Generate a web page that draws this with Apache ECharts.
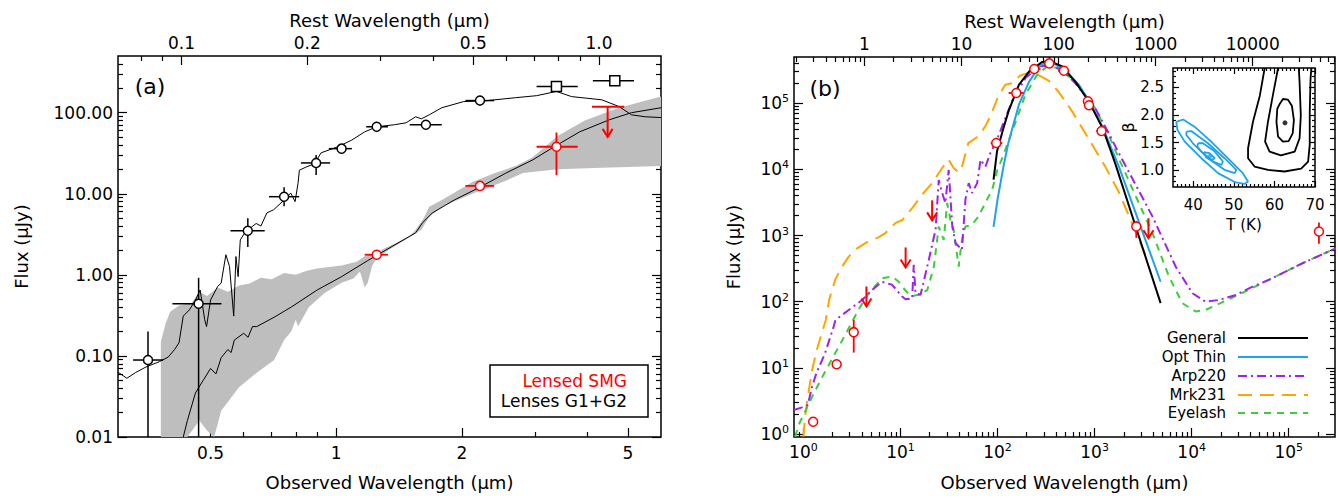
<!DOCTYPE html>
<html><head><meta charset="utf-8">
<script src="https://cdn.jsdelivr.net/npm/echarts@6/dist/echarts.min.js"></script>
<style>html,body{margin:0;padding:0;background:#fff}#c{width:1338px;height:498px}</style>
</head><body><div id="c"></div>
<script>
// ================= DATA =================
const restFactor = 4.26; // 1+z, observed / rest

// ---- panel (a) axes ----
const aXMajor = [0.5, 1, 2, 5];
const aXLabels = ['0.5', '1', '2', '5'];
const aXMinor = [0.4, 0.6, 0.7, 0.8, 0.9, 3, 4];
const aTopMajor = [0.1, 0.2, 0.5, 1.0];
const aTopLabels = ['0.1', '0.2', '0.5', '1.0'];
const aTopMinor = [0.08, 0.09, 0.3, 0.4, 0.6, 0.7, 0.8, 0.9];
const aYMajor = [0.01, 0.1, 1, 10, 100];
const aYLabels = ['0.01', '0.10', '1.00', '10.00', '100.00'];
const aYMinor = [0.02,0.03,0.04,0.05,0.06,0.07,0.08,0.09,0.2,0.3,0.4,0.5,0.6,0.7,0.8,0.9,2,3,4,5,6,7,8,9,20,30,40,50,60,70,80,90,200,300,400];

// ---- panel (a) photometry: [lambda, flux, xlo, xhi, ylo, yhi] ----
const lensCircles = [
  [0.354,0.089,0.326,0.385,0.01,0.2],[0.468,0.44,0.405,0.531,0.01,0.92],[0.614,3.5,0.558,0.674,2.2,5.0],
  [0.75,9.2,0.69,0.815,7.0,12],[0.895,24,0.823,0.967,17,30],[1.03,36,0.96,1.09,31,41],
  [1.25,67,1.18,1.33,60,75],[1.64,71,1.5,1.79,63,80],[2.21,141,2.04,2.39,130,150]
];
const lensSquares = [[3.37,210,3.02,3.79,190,235],[4.65,248,4.12,5.17,215,290]];
const smgPoints = [[1.25,1.77,1.17,1.33,1.55,2.0],[2.21,12.5,2.04,2.39,11.5,13.5],[3.37,38,3.02,3.79,17,57]];
const smgLimits = [[4.47,118,4.1,4.9]];

// ---- panel (a) model curves ----
const lensModel = [[0.30,0.063],[0.315,0.053],[0.33,0.062],[0.35,0.073],[0.377,0.085],[0.396,0.097],[0.41,0.12],[0.42,0.145],[0.43,0.31],[0.445,0.37],[0.46,0.49],[0.472,0.65],[0.484,0.28],[0.489,0.23],[0.50,0.49],[0.52,0.72],[0.53,0.79],[0.544,1.77],[0.555,1.27],[0.568,0.31],[0.575,1.68],[0.582,0.95],[0.589,2.7],[0.606,3.4],[0.643,4.3],[0.66,4.0],[0.682,5.8],[0.708,6.35],[0.751,8.4],[0.778,10.2],[0.797,8.0],[0.81,13.5],[0.816,19.5],[0.846,21.3],[0.887,23.5],[0.92,32],[1.01,38],[1.09,46],[1.17,58],[1.25,67],[1.38,71],[1.47,75],[1.55,89],[1.6,84],[1.67,94],[1.79,115],[2.02,137],[2.27,140],[2.69,153],[3.02,162],[3.37,183],[3.66,158],[4.33,144],[4.76,119],[5.1,94],[5.5,89],[6.0,87]];
const smgModel = [[0.43,0.01],[0.44,0.016],[0.46,0.035],[0.48,0.05],[0.50,0.07],[0.515,0.06],[0.53,0.095],[0.55,0.12],[0.56,0.11],[0.57,0.157],[0.6,0.19],[0.615,0.17],[0.63,0.23],[0.645,0.23],[0.71,0.30],[0.78,0.40],[0.9,0.65],[1.03,0.95],[1.19,1.5],[1.31,2.0],[1.55,3.3],[1.61,4.4],[1.70,5.8],[1.92,8.4],[2.22,12.2],[2.55,18],[2.95,26],[3.33,38],[3.83,58],[4.52,82],[5.1,100],[6.0,115]];
const bandUpper = [[0.38,0.01],[0.38,0.15],[0.39,0.25],[0.40,0.35],[0.42,0.42],[0.45,0.45],[0.47,0.62],[0.49,0.55],[0.52,0.7],[0.55,0.62],[0.585,0.74],[0.62,0.78],[0.66,0.92],[0.7,0.88],[0.75,1.05],[0.8,1.0],[0.85,1.12],[0.9,1.2],[1.03,1.3],[1.12,1.45],[1.17,1.7],[1.25,1.9],[1.35,2.3],[1.5,3.0],[1.55,3.6],[1.62,5.0],[1.67,6.9],[1.8,8.5],[2.12,14],[2.4,18],[2.69,22],[2.95,28],[3.2,40],[3.4,52],[3.94,80],[4.76,115],[6.0,158]];
const bandLower = [[0.38,0.01],[0.44,0.01],[0.47,0.016],[0.49,0.012],[0.51,0.01],[0.53,0.021],[0.585,0.041],[0.645,0.062],[0.71,0.089],[0.75,0.157],[0.78,0.2],[0.80,0.28],[0.81,0.23],[0.86,0.4],[0.94,0.6],[1.03,0.8],[1.1,0.9],[1.14,1.1],[1.17,0.7],[1.19,0.8],[1.22,1.3],[1.25,1.6],[1.35,2.1],[1.5,2.9],[1.6,3.6],[1.67,5.2],[1.8,7.0],[2.12,10],[2.55,14.5],[2.8,18],[3.4,20],[4.33,21],[6.0,22]];

// ---- panel (b) axes ----
const bXMajor = [1, 10, 100, 1000, 10000, 100000];
const bXExp = ['0', '1', '2', '3', '4', '5'];
const bXMinor = [0.9,2,3,4,5,6,7,8,9,20,30,40,50,60,70,80,90,200,300,400,500,600,700,800,900,2000,3000,4000,5000,6000,7000,8000,9000,20000,30000,40000,50000,60000,70000,80000,90000,200000];
const bTopMajor = [1, 10, 100, 1000, 10000];
const bTopLabels = ['1', '10', '100', '1000', '10000'];
const bTopMinor = [0.2,0.3,0.4,0.5,0.6,0.7,0.8,0.9,2,3,4,5,6,7,8,9,20,30,40,50,60,70,80,90,200,300,400,500,600,700,800,900,2000,3000,4000,5000,6000,7000,8000,9000,20000,30000,40000,50000,60000,70000];
const bYMajor = [1, 10, 100, 1000, 10000, 100000];
const bYExp = ['0', '1', '2', '3', '4', '5'];
const bYMinor = [2,3,4,5,6,7,8,9,20,30,40,50,60,70,80,90,200,300,400,500,600,700,800,900,2000,3000,4000,5000,6000,7000,8000,9000,20000,30000,40000,50000,60000,70000,80000,90000,200000,300000,400000];

// ---- panel (b) photometry ----
const bPoints = [[1.26,1.53,1.26,1.26,1.3,1.8],[2.2,11.3,2.2,2.2,10,12.8],[3.3,34.6,3.3,3.3,17,53],[97,2.5e4,85,112,2.1e4,3.0e4],[156,1.43e5,130,186,1.3e5,1.57e5],[239,3.3e5,211,277,3.0e5,3.6e5],[341,4.0e5,300,395,3.7e5,4.3e5],[483,3.1e5,420,550,2.85e5,3.35e5],[853,1.07e5,853,853,9.9e4,1.15e5],[876,9.3e4,876,876,8.6e4,1.0e5],[1180,3.8e4,1040,1350,3.4e4,4.2e4],[2690,1370,2690,2690,920,1650],[2.05e5,1150,2.05e5,2.05e5,750,1580]];
const bLimits = [[4.46,170],[11.3,660],[21.2,3400],[3590,1830]];

// ---- panel (b) SED models ----
const general = [[91,7000],[99,1.9e4],[115,4.2e4],[130,7.6e4],[166,1.9e5],[211,3.0e5],[287,4.2e5],[352,4.3e5],[464,3.6e5],[635,2.1e5],[870,1.07e5],[1210,4.2e4],[1520,1.66e4],[1650,1.17e4],[2650,1370],[4790,95]];
const optThin = [[91,1350],[100,3500],[116,1.17e4],[130,2.6e4],[166,9.5e4],[211,2.1e5],[277,3.8e5],[352,4.3e5],[500,3.1e5],[690,1.9e5],[940,9.0e4],[1200,4.5e4],[1780,1.1e4],[4790,200]];
const arp220 = [[0.80,2.3],[0.95,2.5],[1.11,2.75],[1.23,5.2],[1.36,8.3],[1.67,16.6],[2.05,42],[2.14,53],[2.93,75],[4.03,106],[5.1,150],[6.47,200],[8.2,180],[10.4,120],[11.3,109],[13.2,112],[13.7,360],[14.3,134],[16.1,127],[19.6,430],[23,1230],[24.8,6900],[26.9,4400],[29,3100],[31.4,9800],[34.2,1370],[36.9,770],[43,610],[46.7,3500],[50.5,6200],[54.6,4400],[61.7,6200],[66.9,1.4e4],[75,1.1e4],[84.5,1.77e4],[95,2.5e4],[102,3.2e4],[141,1.07e5],[194,2.4e5],[266,3.6e5],[341,3.7e5],[464,3.2e5],[635,2.0e5],[1010,8.5e4],[1400,3.5e4],[1700,2.0e4],[3940,1950],[6840,340],[1.02e4,134],[1.39e4,100],[1.9e4,106],[2.8e4,125],[4.3e4,170],[6.3e4,215],[1.38e5,380],[3.05e5,640]];
const mrk231 = [[1.0,0.91],[1.04,1.83],[1.11,3.66],[1.23,9.3],[1.36,17.6],[1.51,29.7],[1.7,53],[1.85,110],[2.14,220],[2.5,340],[2.93,480],[3.57,640],[4.36,770],[5.98,945],[7.0,1090],[8.9,1550],[10.4,1700],[13.2,2600],[16.7,4160],[21.2,6200],[26.9,1.05e4],[31.4,1.4e4],[35.3,1.05e4],[39.8,9000],[43,1.1e4],[50,2.5e4],[64,3.2e4],[75,4.5e4],[85,6.5e4],[100,1.2e5],[120,1.9e5],[140,2.0e5],[170,2.6e5],[210,2.9e5],[260,2.7e5],[336,2.2e5],[425,1.5e5],[585,7.6e4],[805,3.5e4],[1010,2.0e4],[1290,1.1e4],[1780,4500],[2430,1550],[3360,500]];
const eyelash = [[0.82,0.91],[0.91,1.45],[1.06,2.3],[1.23,3.66],[1.51,6.6],[1.95,13.2],[2.64,29.7],[3.25,53],[3.87,85],[4.71,134],[6.47,226],[8.2,240],[9.6,200],[10.4,170],[12.7,120],[15.4,127],[18.9,150],[22.1,340],[24.8,1370],[27.9,860],[30.3,3100],[32.7,1730],[35.3,1230],[39.8,340],[43,860],[46.7,1370],[54.6,1450],[63.7,1950],[78,3500],[88,4900],[100,1.0e4],[108,1.3e4],[141,3.7e4],[194,1.35e5],[256,2.7e5],[325,3.6e5],[425,3.4e5],[635,2.1e5],[1010,8.5e4],[1400,3.3e4],[1800,1.4e4],[3940,1090],[5840,240],[8020,95],[1.1e4,71],[1.39e4,75],[2.8e4,120],[6.3e4,215],[1.38e5,380],[3.05e5,640]];

// ---- inset (T, beta) ----
const inXMajor = [40, 50, 60, 70];
const inXMinor = [36,37,38,39,41,42,43,44,45,46,47,48,49,51,52,53,54,55,56,57,58,59,61,62,63,64,65,66,67,68,69];
const inYMajor = [1.0, 1.5, 2.0, 2.5];
const inYLabels = ['1.0', '1.5', '2.0', '2.5'];
const inYMinor = [0.8,0.9,1.1,1.2,1.3,1.4,1.6,1.7,1.8,1.9,2.1,2.2,2.3,2.4,2.6,2.7,2.8];
const blueC1 = [[35.8,1.875],[37.5,1.92],[40.3,1.79],[44.4,1.52],[48.5,1.22],[52.2,0.95],[53.5,0.80],[52.6,0.755],[50.2,0.79],[46.1,0.95],[42.0,1.22],[37.9,1.52],[36.1,1.73],[35.8,1.875]];
const blueC2 = [[38.3,1.70],[39.5,1.71],[43.6,1.49],[47.7,1.22],[50.6,1.01],[50.2,0.95],[47.7,1.01],[43.6,1.22],[39.9,1.49],[38.3,1.64],[38.3,1.70]];
const blueC3 = [[41.2,1.49],[42.4,1.49],[45.3,1.34],[47.3,1.16],[46.9,1.10],[44.9,1.16],[42.0,1.34],[41.0,1.43],[41.2,1.49]];
const blueC4 = [[42.6,1.33],[44.0,1.31],[45.3,1.22],[44.6,1.19],[43.2,1.23],[42.6,1.33]];
const blackC1 = [[57.6,2.85],[56.4,2.35],[54.7,1.875],[53.5,1.40],[53.5,1.22],[55.1,1.07],[58.4,1.01],[62.5,0.98],[66.6,1.03],[68.3,1.16],[68.7,1.46],[68.7,2.05],[68.9,2.65],[69.1,2.85]];
const blackC2 = [[60.9,2.85],[59.6,2.35],[58.4,1.875],[57.7,1.52],[58.8,1.34],[61.6,1.27],[65.0,1.34],[66.2,1.58],[66.5,1.99],[66.2,2.59],[66.0,2.85]];
const blackC3 = [[61.3,2.20],[62.1,2.29],[63.3,2.28],[64.3,2.17],[64.8,1.91],[64.5,1.67],[63.5,1.53],[62.1,1.52],[60.9,1.61],[60.5,1.875],[60.7,2.11],[61.3,2.20]];
const bestFit = [[62.6,1.86]];
const bestThin = [[44.0,1.25]];

// ================= STYLE =================
const FF = 'DejaVu Sans';
const RED = '#ff0000', BLUE = '#1ea3ea', PURPLE = '#a020f0', ORANGE = '#ffa500', GREEN = '#3ccc3c', GRAY = '#bebebe';

function pick(v, ticks, labels) {
  for (let i = 0; i < ticks.length; i++) if (Math.abs(v - ticks[i]) <= 1e-4 * Math.abs(ticks[i])) return labels[i];
  return '';
}
function axis(o) {
  const a = {
    gridIndex: o.grid, position: o.pos, type: o.type || 'log', min: o.min, max: o.max,
    axisLine: {show: false}, splitLine: {show: false},
    axisTick: {show: true, inside: true, length: o.len, customValues: o.ticks, lineStyle: {color: '#000', width: 1.2}},
    axisLabel: o.fmt ? {show: true, customValues: o.ticks, formatter: o.fmt, color: '#000', fontFamily: FF,
      fontSize: o.fs || 17, margin: o.margin || 6, rich: o.rich} : {show: false},
    z: o.z || 0
  };
  if (a.type === 'log') a.logBase = 10;
  if (o.name) {
    a.name = o.name; a.nameLocation = 'middle'; a.nameGap = o.gap;
    if (o.rot) a.nameRotate = o.rot;
    a.nameTextStyle = {color: '#000', fontFamily: FF, fontSize: o.nfs || 18};
  }
  return a;
}
const supRich = {b: {fontSize: 17, fontFamily: FF, color: '#000'}, s: {fontSize: 11, fontFamily: FF, color: '#000', padding: [0, 0, 9, 0]}};

const aXmin = 0.3, aXmax = 6.0, aYmin = 0.01, aYmax = 500;
const bXmin = 0.8, bXmax = 3e5, bYmin = 0.9, bYmax = 5e5;

const xAxes = [
  axis({grid: 0, pos: 'bottom', min: aXmin, max: aXmax, ticks: aXMajor, len: 9, fmt: v => pick(v, aXMajor, aXLabels), margin: 7, name: 'Observed Wavelength (\u03bcm)', gap: 36}),
  axis({grid: 0, pos: 'bottom', min: aXmin, max: aXmax, ticks: aXMinor, len: 5}),
  axis({grid: 0, pos: 'top', min: aXmin / restFactor, max: aXmax / restFactor, ticks: aTopMajor, len: 9, fmt: v => pick(v, aTopMajor, aTopLabels), margin: 5, name: 'Rest Wavelength (\u03bcm)', gap: 27}),
  axis({grid: 0, pos: 'top', min: aXmin / restFactor, max: aXmax / restFactor, ticks: aTopMinor, len: 5}),
  axis({grid: 1, pos: 'bottom', min: bXmin, max: bXmax, ticks: bXMajor, len: 9, fmt: v => '{b|10}{s|' + pick(v, bXMajor, bXExp) + '}', rich: supRich, margin: 5, name: 'Observed Wavelength (\u03bcm)', gap: 36}),
  axis({grid: 1, pos: 'bottom', min: bXmin, max: bXmax, ticks: bXMinor, len: 5}),
  axis({grid: 1, pos: 'top', min: bXmin / restFactor, max: bXmax / restFactor, ticks: bTopMajor, len: 9, fmt: v => pick(v, bTopMajor, bTopLabels), margin: 5, name: 'Rest Wavelength (\u03bcm)', gap: 27}),
  axis({grid: 1, pos: 'top', min: bXmin / restFactor, max: bXmax / restFactor, ticks: bTopMinor, len: 5}),
  axis({grid: 2, pos: 'bottom', type: 'value', min: 35, max: 70, ticks: inXMajor, len: 6, fmt: v => String(v), fs: 15, margin: 10, name: 'T (K)', gap: 30, nfs: 15, z: 6}),
  axis({grid: 2, pos: 'bottom', type: 'value', min: 35, max: 70, ticks: inXMinor, len: 3, z: 6}),
  axis({grid: 2, pos: 'top', type: 'value', min: 35, max: 70, ticks: inXMajor, len: 6, z: 6}),
  axis({grid: 2, pos: 'top', type: 'value', min: 35, max: 70, ticks: inXMinor, len: 3, z: 6})
];
const yAxes = [
  axis({grid: 0, pos: 'left', min: aYmin, max: aYmax, ticks: aYMajor, len: 9, fmt: v => pick(v, aYMajor, aYLabels), margin: 5, name: 'Flux (\u03bcJy)', gap: 88, rot: 90}),
  axis({grid: 0, pos: 'left', min: aYmin, max: aYmax, ticks: aYMinor, len: 5}),
  axis({grid: 0, pos: 'right', min: aYmin, max: aYmax, ticks: aYMajor, len: 9}),
  axis({grid: 0, pos: 'right', min: aYmin, max: aYmax, ticks: aYMinor, len: 5}),
  axis({grid: 1, pos: 'left', min: bYmin, max: bYmax, ticks: bYMajor, len: 9, fmt: v => '{b|10}{s|' + pick(v, bYMajor, bYExp) + '}', rich: supRich, margin: 5, name: 'Flux (\u03bcJy)', gap: 52, rot: 90}),
  axis({grid: 1, pos: 'left', min: bYmin, max: bYmax, ticks: bYMinor, len: 5}),
  axis({grid: 1, pos: 'right', min: bYmin, max: bYmax, ticks: bYMajor, len: 9}),
  axis({grid: 1, pos: 'right', min: bYmin, max: bYmax, ticks: bYMinor, len: 5}),
  axis({grid: 2, pos: 'left', type: 'value', min: 0.7, max: 2.85, ticks: inYMajor, len: 6, fmt: v => pick(v, inYMajor, inYLabels), fs: 15, margin: 9, name: '\u03b2', gap: 34, nfs: 16, rot: 90, z: 6}),
  axis({grid: 2, pos: 'left', type: 'value', min: 0.7, max: 2.85, ticks: inYMinor, len: 3, z: 6}),
  axis({grid: 2, pos: 'right', type: 'value', min: 0.7, max: 2.85, ticks: inYMajor, len: 6, z: 6}),
  axis({grid: 2, pos: 'right', type: 'value', min: 0.7, max: 2.85, ticks: inYMinor, len: 3, z: 6})
];

// error bars via custom series (values: x, y, xlo, xhi, ylo, yhi)
function errSeries(data, xi, color, width, z) {
  return {
    type: 'custom', xAxisIndex: xi, yAxisIndex: xi, data: data, z: z, clip: true,
    encode: {x: 0, y: 1},
    renderItem: function (params, api) {
      const x = api.value(0), y = api.value(1);
      const a = api.coord([api.value(2), y]), b = api.coord([api.value(3), y]);
      const c = api.coord([x, api.value(4)]), d = api.coord([x, api.value(5)]);
      const st = {stroke: color, lineWidth: width, fill: 'none'};
      return {type: 'group', children: [
        {type: 'line', shape: {x1: a[0], y1: a[1], x2: b[0], y2: b[1]}, style: st},
        {type: 'line', shape: {x1: c[0], y1: c[1], x2: d[0], y2: d[1]}, style: st}
      ]};
    }
  };
}
// upper limits: bar (optional) + downward arrow of fixed pixel length
function limitSeries(data, xi, withBar, len, z) {
  return {
    type: 'custom', xAxisIndex: xi, yAxisIndex: xi, data: data, z: z, clip: false,
    encode: {x: 0, y: 1},
    renderItem: function (params, api) {
      const p = api.coord([api.value(0), api.value(1)]);
      const st = {stroke: RED, lineWidth: 2, fill: 'none'};
      const ch = [
        {type: 'line', shape: {x1: p[0], y1: p[1], x2: p[0], y2: p[1] + len}, style: st},
        {type: 'polyline', shape: {points: [[p[0] - 5, p[1] + len - 8], [p[0], p[1] + len], [p[0] + 5, p[1] + len - 8]]}, style: st}
      ];
      if (withBar) {
        const a = api.coord([api.value(2), api.value(1)]), b = api.coord([api.value(3), api.value(1)]);
        ch.push({type: 'line', shape: {x1: a[0], y1: a[1], x2: b[0], y2: b[1]}, style: st});
      }
      return {type: 'group', children: ch};
    }
  };
}
function line(data, xi, color, width, type, z) {
  return {type: 'line', xAxisIndex: xi, yAxisIndex: xi, data: data, symbol: 'none', showSymbol: false,
    lineStyle: {color: color, width: width, type: type || 'solid'}, z: z || 2, clip: true, silent: true};
}
function marks(data, xi, symbol, size, color, z) {
  return {type: 'scatter', xAxisIndex: xi, yAxisIndex: xi, data: data.map(d => [d[0], d[1]]), symbol: symbol,
    symbolSize: size, itemStyle: {color: '#fff', borderColor: color, borderWidth: 1.5, opacity: 1}, z: z || 4, silent: true};
}

const series = [
  // ---- panel (a) ----
  {type: 'custom', xAxisIndex: 0, yAxisIndex: 0, data: [[1, 1]], z: 1, clip: true, silent: true,
    renderItem: function (params, api) {
      const pts = bandUpper.map(p => api.coord(p)).concat(bandLower.slice().reverse().map(p => api.coord(p)));
      return {type: 'polygon', shape: {points: pts}, style: {fill: GRAY, stroke: 'none'}};
    }},
  line(lensModel, 0, '#000', 1, 'solid', 2),
  line(smgModel, 0, '#000', 1, 'solid', 2),
  errSeries(lensCircles, 0, '#000', 1.5, 3),
  errSeries(lensSquares, 0, '#000', 1.5, 3),
  errSeries(smgPoints, 0, RED, 1.8, 3),
  limitSeries(smgLimits, 0, true, 30, 3),
  marks(lensCircles, 0, 'circle', 9, '#000'),
  marks(lensSquares, 0, 'rect', 10, '#000'),
  marks(smgPoints, 0, 'circle', 9, RED),
  // ---- panel (b) ----
  line(mrk231, 4, ORANGE, 2, [14, 8], 2),
  line(eyelash, 4, GREEN, 2, [7, 6], 2),
  line(arp220, 4, PURPLE, 2, [9, 4, 2, 4], 2),
  line(optThin, 4, BLUE, 2, 'solid', 2),
  line(general, 4, '#000', 2, 'solid', 2),
  errSeries(bPoints, 4, RED, 1.8, 3),
  limitSeries(bLimits, 4, false, 20, 3),
  marks(bPoints, 4, 'circle', 9, RED),
  // ---- inset ----
  line(blueC1, 8, BLUE, 1.8, 'solid', 7),
  line(blueC2, 8, BLUE, 1.8, 'solid', 7),
  line(blueC3, 8, BLUE, 1.8, 'solid', 7),
  line(blueC4, 8, BLUE, 1.8, 'solid', 7),
  line(blackC1, 8, '#000', 1.8, 'solid', 7),
  line(blackC2, 8, '#000', 1.8, 'solid', 7),
  line(blackC3, 8, '#000', 1.8, 'solid', 7),
  {type: 'scatter', xAxisIndex: 8, yAxisIndex: 8, data: bestFit, symbolSize: 5, itemStyle: {color: '#000'}, z: 8, silent: true},
  {type: 'scatter', xAxisIndex: 8, yAxisIndex: 8, data: bestThin, symbolSize: 5, itemStyle: {color: BLUE}, z: 8, silent: true}
];

function txt(text, x, y, size, color, align) {
  return {type: 'text', x: x, y: y, z: 20, silent: true,
    style: {text: text, fill: color, font: size + 'px "' + FF + '"', align: align, verticalAlign: 'middle',
      textAlign: align, textVerticalAlign: 'middle'}};
}
function legLine(y, color, dash) {
  return {type: 'line', z: 20, silent: true, shape: {x1: 1238, y1: y, x2: 1308, y2: y},
    style: {stroke: color, lineWidth: 2, lineDash: dash}};
}
const graphics = [
  txt('(a)', 150, 86, 22, '#000', 'center'),
  txt('(b)', 825, 88, 22, '#000', 'center'),
  {type: 'rect', z: 19, silent: true, shape: {x: 490, y: 365, width: 158, height: 52}, style: {fill: '#fff', stroke: '#000', lineWidth: 1.5}},
  txt('Lensed SMG', 627, 381, 17, RED, 'right'),
  txt('Lenses G1+G2', 627, 401, 17, '#000', 'right'),
  txt('General', 1226, 338, 15, '#000', 'right'), legLine(338, '#000', null),
  txt('Opt Thin', 1226, 357, 15, '#000', 'right'), legLine(357, BLUE, null),
  txt('Arp220', 1226, 376, 15, '#000', 'right'), legLine(376, PURPLE, [9, 4, 2, 4]),
  txt('Mrk231', 1226, 395, 15, '#000', 'right'), legLine(395, ORANGE, [14, 8]),
  txt('Eyelash', 1226, 413, 15, '#000', 'right'), legLine(413, GREEN, [7, 6])
];

const chart = echarts.init(document.getElementById('c'), null, {renderer: 'svg', width: 1338, height: 498});
chart.setOption({
  animation: false,
  backgroundColor: '#fff',
  grid: [
    {left: 118, top: 56, width: 543, height: 381, show: true, borderColor: '#000', borderWidth: 1.5, backgroundColor: 'transparent', z: 0},
    {left: 794, top: 57, width: 541, height: 380, show: true, borderColor: '#000', borderWidth: 1.5, backgroundColor: 'transparent', z: 0},
    {left: 1173, top: 68, width: 142, height: 119, show: true, borderColor: '#000', borderWidth: 1.5, backgroundColor: '#fff', z: 5}
  ],
  xAxis: xAxes,
  yAxis: yAxes,
  series: series,
  graphic: graphics
});
</script></body></html>
